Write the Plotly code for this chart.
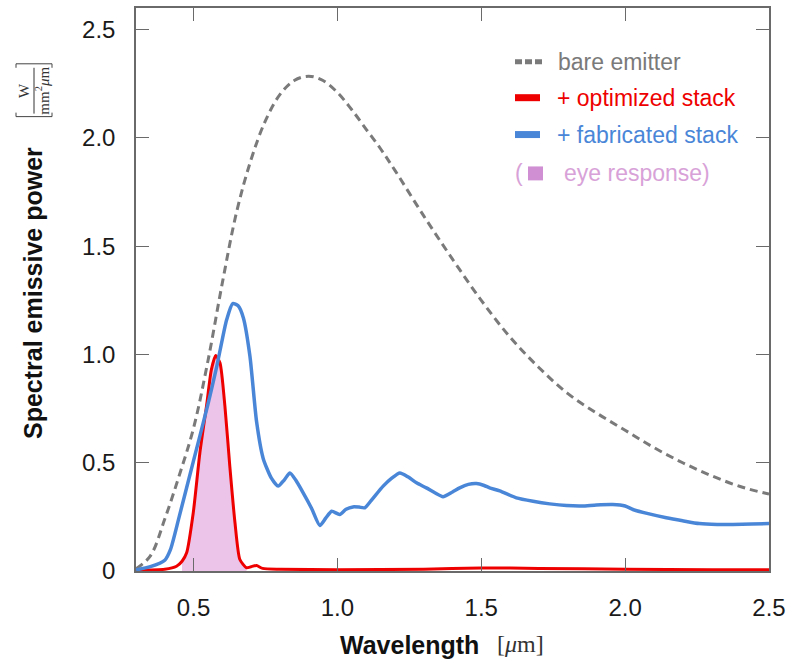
import plotly.graph_objects as go

# ---------------- data ----------------
bare_x = [0.30, 0.35, 0.40, 0.45, 0.50, 0.55, 0.60, 0.65, 0.70, 0.75, 0.80, 0.85,
          0.90, 0.95, 1.00, 1.05, 1.10, 1.15, 1.20, 1.30, 1.40, 1.50, 1.60, 1.70,
          1.80, 1.90, 2.00, 2.10, 2.20, 2.30, 2.40, 2.50]
bare_y = [0.01, 0.07, 0.24, 0.44, 0.66, 0.97, 1.33, 1.66, 1.90, 2.08, 2.20, 2.265,
          2.285, 2.265, 2.21, 2.13, 2.04, 1.95, 1.85, 1.64, 1.44, 1.25, 1.08, 0.94,
          0.82, 0.73, 0.65, 0.57, 0.50, 0.44, 0.39, 0.355]

fab_x = [0.30, 0.35, 0.40, 0.42, 0.45, 0.50, 0.55, 0.58, 0.60, 0.615, 0.636,
         0.655, 0.673, 0.696, 0.719, 0.742, 0.77, 0.794, 0.815, 0.835, 0.855, 0.881,
         0.91, 0.939, 0.96, 0.98, 1.008, 1.03, 1.054, 1.075, 1.095, 1.12, 1.159,
         1.19, 1.217, 1.245, 1.275, 1.309, 1.34, 1.367, 1.40, 1.425, 1.455, 1.483,
         1.51, 1.529, 1.564, 1.622, 1.68, 1.738, 1.796, 1.85, 1.90, 1.957, 2.00,
         2.027, 2.08, 2.143, 2.20, 2.258, 2.32, 2.374, 2.44, 2.50]
fab_y = [0.005, 0.02, 0.05, 0.10, 0.25, 0.51, 0.77, 0.94, 1.07, 1.16, 1.235,
         1.225, 1.17, 0.992, 0.69, 0.52, 0.43, 0.392, 0.42, 0.453, 0.42, 0.361,
         0.29, 0.21, 0.245, 0.276, 0.261, 0.285, 0.296, 0.295, 0.292, 0.33, 0.392,
         0.43, 0.453, 0.435, 0.407, 0.384, 0.36, 0.343, 0.365, 0.384, 0.40, 0.404,
         0.395, 0.384, 0.37, 0.338, 0.322, 0.31, 0.302, 0.30, 0.305, 0.307, 0.30,
         0.284, 0.265, 0.246, 0.232, 0.219, 0.215, 0.215, 0.217, 0.219]

opt_x = [0.30, 0.40, 0.441, 0.46, 0.476, 0.499, 0.522, 0.545, 0.562, 0.577, 0.592,
         0.609, 0.626, 0.644, 0.661, 0.684, 0.70, 0.719, 0.74, 0.80, 1.0, 1.3, 1.5,
         1.7, 2.0, 2.3, 2.5]
opt_y = [0.003, 0.008, 0.022, 0.045, 0.084, 0.269, 0.546, 0.761, 0.93, 0.995, 0.961,
         0.761, 0.484, 0.223, 0.053, 0.015, 0.02, 0.025, 0.012, 0.008, 0.006, 0.008,
         0.014, 0.012, 0.008, 0.006, 0.006]

eye_range = [0.46, 0.684]   # visible band shaded under the optimized curve

x_ticks = [0.5, 1.0, 1.5, 2.0, 2.5]
x_ticklabels = ["0.5", "1.0", "1.5", "2.0", "2.5"]
y_ticks = [0, 0.5, 1.0, 1.5, 2.0, 2.5]
y_ticklabels = ["0", "0.5", "1.0", "1.5", "2.0", "2.5"]

legend_labels = ["bare emitter", "+ optimized stack", "+ fabricated stack", "eye response)"]

# ---------------- style ----------------
GRAY = "#7a7a7a"
RED = "#ee0000"
BLUE = "#4a86d8"
PINK_FILL = "#ecc4ea"
PINK_KEY = "#d08fd2"
PINK_TXT = "#d8a2d8"
FONT = "Liberation Sans, Arial, sans-serif"
SERIF = "Liberation Serif, DejaVu Serif, serif"

W, H = 793, 671
L, R, T, B = 136, 24, 6, 100
PW, PH = W - L - R, H - T - B


def px(xp):
    return (xp - L) / PW


def py(yp):
    return (H - B - yp) / PH


eye_x = [x for x in opt_x if eye_range[0] <= x <= eye_range[1]]
eye_y = [y for x, y in zip(opt_x, opt_y) if eye_range[0] <= x <= eye_range[1]]

fig = go.Figure()
fig.add_trace(go.Scatter(x=eye_x, y=eye_y, mode="lines", fill="tozeroy",
                         fillcolor=PINK_FILL, line=dict(width=0, shape="spline", smoothing=0.6),
                         showlegend=False, hoverinfo="skip"))
fig.add_trace(go.Scatter(x=bare_x, y=bare_y, mode="lines",
                         line=dict(color=GRAY, width=3, dash="8px,5px", shape="spline"),
                         showlegend=False))
fig.add_trace(go.Scatter(x=opt_x, y=opt_y, mode="lines",
                         line=dict(color=RED, width=3, shape="spline", smoothing=0.6),
                         showlegend=False))
fig.add_trace(go.Scatter(x=fab_x, y=fab_y, mode="lines",
                         line=dict(color=BLUE, width=3.5, shape="spline", smoothing=0.6),
                         showlegend=False))

axis_common = dict(showline=True, linecolor="#6a6a6a", linewidth=1.5, mirror="ticks",
                   ticks="inside", ticklen=13, tickwidth=1, tickcolor="#6a6a6a",
                   showgrid=False, zeroline=False,
                   tickfont=dict(family=FONT, size=24, color="#1a1a1a"))
fig.update_xaxes(range=[0.3, 2.5], tickvals=x_ticks, ticktext=x_ticklabels,
                 ticklabelstandoff=14, **axis_common)
fig.update_yaxes(range=[0, 2.6], tickvals=y_ticks, ticktext=y_ticklabels,
                 ticklabelstandoff=14, **axis_common)

ann = []
shapes = []
# axis titles
ann.append(dict(x=px(338), y=py(645), xref="paper", yref="paper", xanchor="left",
                yanchor="middle", showarrow=False, text="<b>Wavelength</b>",
                font=dict(family=FONT, size=25, color="#111")))
ann.append(dict(x=px(495), y=py(644), xref="paper", yref="paper", xanchor="left",
                yanchor="middle", showarrow=False, text="[<i>μ</i>m]",
                font=dict(family=SERIF, size=24, color="#333")))
ann.append(dict(x=px(33), y=py(292), xref="paper", yref="paper", xanchor="center",
                yanchor="middle", showarrow=False, textangle=-90,
                text="<b>Spectral emissive power</b>",
                font=dict(family=FONT, size=25, color="#111")))
# unit fraction W / mm^2 um, rotated
ann.append(dict(x=px(34), y=py(89), xref="paper", yref="paper", xanchor="center",
                yanchor="middle", showarrow=False, textangle=-90,
                text="W<br>mm<sup>2</sup><i>μ</i>m",
                font=dict(family=SERIF, size=15, color="#333")))
shapes.append(dict(type="line", xref="paper", yref="paper",
                   x0=px(34), x1=px(34), y0=py(66), y1=py(112),
                   line=dict(color="#333", width=1)))
# brackets
for yb, d in ((115, -4), (62, 4)):
    shapes.append(dict(type="path", xref="paper", yref="paper",
                       path=f"M {px(16)} {py(yb + d)} L {px(16)} {py(yb)} L {px(52)} {py(yb)} L {px(52)} {py(yb + d)}",
                       line=dict(color="#444", width=1)))

# manual legend
rows = [60, 96, 133, 172]
shapes.append(dict(type="line", xref="paper", yref="paper", x0=px(515), x1=px(543),
                   y0=py(rows[0]), y1=py(rows[0]), line=dict(color=GRAY, width=5, dash="7px,3px")))
shapes.append(dict(type="line", xref="paper", yref="paper", x0=px(515), x1=px(540),
                   y0=py(rows[1]), y1=py(rows[1]), line=dict(color=RED, width=7)))
shapes.append(dict(type="line", xref="paper", yref="paper", x0=px(515), x1=px(540),
                   y0=py(rows[2]), y1=py(rows[2]), line=dict(color=BLUE, width=7)))
shapes.append(dict(type="rect", xref="paper", yref="paper", x0=px(528), x1=px(543),
                   y0=py(rows[3] + 7), y1=py(rows[3] - 7), fillcolor=PINK_KEY,
                   line=dict(width=0)))
colors = [GRAY, RED, BLUE, PINK_TXT]
starts = [556, 555, 555, 562]
for lab, c, r, s in zip(legend_labels, colors, rows, starts):
    ann.append(dict(x=px(s), y=py(r), xref="paper", yref="paper", xanchor="left",
                    yanchor="middle", showarrow=False, text=lab,
                    font=dict(family=FONT, size=23, color=c)))
ann.append(dict(x=px(513), y=py(rows[3]), xref="paper", yref="paper", xanchor="left",
                yanchor="middle", showarrow=False, text="(",
                font=dict(family=FONT, size=23, color=PINK_TXT)))

fig.update_layout(width=W, height=H, margin=dict(l=L, r=R, t=T, b=B),
                  plot_bgcolor="white", paper_bgcolor="white",
                  annotations=ann, shapes=shapes, showlegend=False)

fig.write_html("out.html", config={"displayModeBar": False},
               post_script="document.body.style.margin='0';document.body.style.overflow='hidden';")
